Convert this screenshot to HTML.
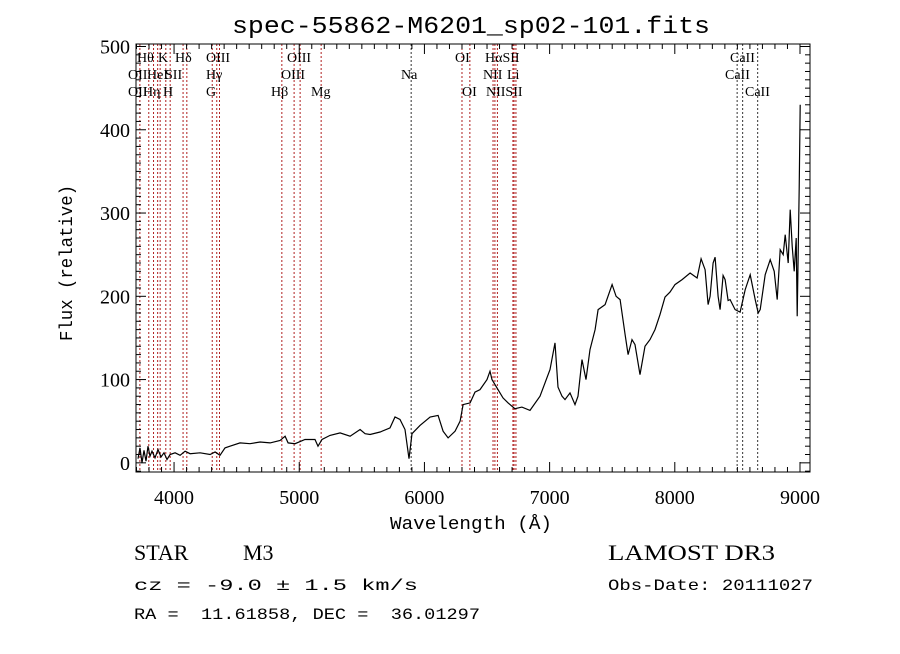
<!DOCTYPE html>
<html><head><meta charset="utf-8"><style>
body{margin:0;background:#fff;}
svg text{font-family:"Liberation Serif",serif;white-space:pre;}
</style></head><body>
<svg id="chart" width="900" height="649" xmlns="http://www.w3.org/2000/svg" xml:space="preserve">
<rect width="900" height="649" fill="#fff"/>
<text x="232" y="33" font-size="24" textLength="478" lengthAdjust="spacingAndGlyphs" style="font-family:'Liberation Mono',monospace">spec-55862-M6201_sp02-101.fits</text>
<g id="lines"></g>
<g id="ticks"></g>
<polyline id="spec" fill="none" stroke="#000" stroke-width="1.2"/>
<rect x="136" y="44" width="674" height="428" fill="none" stroke="#000" stroke-width="1"/>
<g id="labels" font-size="14"></g>
<g id="ticklabels" font-size="20"></g>
<text x="390" y="529" font-size="18" textLength="162" lengthAdjust="spacingAndGlyphs" style="font-family:'Liberation Mono',monospace">Wavelength (Å)</text>
<text transform="translate(72,341) rotate(-90)" font-size="18" textLength="156" lengthAdjust="spacingAndGlyphs" style="font-family:'Liberation Mono',monospace">Flux (relative)</text>
<text x="134" y="560" font-size="22">STAR</text>
<text x="243" y="560" font-size="22">M3</text>
<text x="608" y="560" font-size="22" textLength="167" lengthAdjust="spacingAndGlyphs">LAMOST DR3</text>
<text x="134" y="590" font-size="16" textLength="284" lengthAdjust="spacingAndGlyphs" style="font-family:'Liberation Mono',monospace">cz = -9.0 ± 1.5 km/s</text>
<text x="608" y="590" font-size="16" textLength="205" lengthAdjust="spacingAndGlyphs" style="font-family:'Liberation Mono',monospace">Obs-Date: 20111027</text>
<text x="134" y="619" font-size="16" textLength="346" lengthAdjust="spacingAndGlyphs" style="font-family:'Liberation Mono',monospace">RA =  11.61858, DEC =  36.01297</text>
</svg>
<script>
const wave=[3712,3728,3744,3760,3776,3792,3808,3824,3848,3872,3896,3920,3944,3968,4008,4048,4088,4128,4208,4288,4328,4367,4407,4447,4527,4607,4687,4767,4847,4887,4911,4966,5046,5126,5150,5182,5246,5326,5406,5486,5526,5566,5646,5725,5765,5805,5845,5877,5901,5965,6045,6109,6149,6189,6245,6285,6309,6365,6404,6444,6500,6524,6540,6580,6628,6668,6723,6779,6843,6923,6963,7003,7043,7067,7099,7123,7163,7203,7227,7259,7291,7323,7363,7387,7443,7499,7531,7563,7603,7627,7658,7682,7722,7762,7802,7842,7882,7922,7962,8002,8058,8122,8178,8210,8242,8266,8282,8306,8322,8346,8362,8386,8402,8426,8442,8482,8522,8562,8602,8642,8666,8682,8722,8762,8794,8818,8842,8866,8882,8906,8922,8938,8954,8970,8978,8994,9002];
const flux=[5,18,0,15,2,20,8,14,6,16,7,12,4,10,12,9,14,11,12,10,13,9,18,20,24,23,25,24,27,32,24,23,28,28,20,28,33,36,32,40,35,34,37,42,55,52,40,5,35,45,55,57,38,30,38,50,70,72,85,88,100,110,100,90,78,72,65,67,63,80,96,112,144,91,80,76,84,70,80,124,100,136,160,184,190,214,200,196,154,130,148,142,106,140,148,160,178,199,205,214,220,228,222,245,232,190,200,240,247,200,184,225,220,195,196,184,181,208,226,196,180,184,226,244,230,196,256,250,274,240,304,260,230,270,176,330,430];
const lineWaves=[3727,3798,3836,3869,3889,3934,3969,4072,4102,4305,4341,4363,4861,4959,5007,5175,5894,6300,6363,6548,6563,6583,6707,6716,6731,8498,8542,8662];
const xTicks=[4000,5000,6000,7000,8000,9000];
const yTicks=[0,100,200,300,400,500];
const NS='http://www.w3.org/2000/svg';
const X0=136,X1=810,Y0=472,Y1=44,WMIN=3696,WMAX=9080,FMIN=-11,FMAX=503;
const sx=w=>X0+(w-WMIN)/(WMAX-WMIN)*(X1-X0);
const sy=f=>Y0-(f-FMIN)/(FMAX-FMIN)*(Y0-Y1);
function mk(t,a,p){const e=document.createElementNS(NS,t);for(const k in a)e.setAttribute(k,a[k]);p.appendChild(e);return e;}
document.getElementById('spec').setAttribute('points',wave.map((w,i)=>sx(w).toFixed(1)+','+sy(flux[i]).toFixed(1)).join(' '));
const lg=document.getElementById('lines');
lineWaves.forEach(w=>{const dark=(w>8400||w==5894);
const l=mk('line',{x1:sx(w),x2:sx(w),y1:Y1,y2:Y0,stroke:dark?'#333':'#b02020','stroke-width':1,'stroke-dasharray':'2,2'},lg);

});
const tg=document.getElementById('ticks');
for(let w=3700;w<=9000;w+=100){const maj=w%1000==0;const L=maj?10:5;
mk('line',{x1:sx(w),x2:sx(w),y1:Y0,y2:Y0-L,stroke:'#000'},tg);mk('line',{x1:sx(w),x2:sx(w),y1:Y1,y2:Y1+L,stroke:'#000'},tg);}
for(let f=-10;f<=500;f+=10){const maj=f%100==0;const L=maj?10:5;
mk('line',{x1:X0,x2:X0+L,y1:sy(f),y2:sy(f),stroke:'#000'},tg);mk('line',{x1:X1,x2:X1-L,y1:sy(f),y2:sy(f),stroke:'#000'},tg);}
const tl=document.getElementById('ticklabels');
xTicks.forEach(v=>{const t=mk('text',{x:sx(v),y:504,'text-anchor':'middle'},tl);t.textContent=v;

});
yTicks.forEach(v=>{const t=mk('text',{x:130,y:sy(v)+7,'text-anchor':'end'},tl);t.textContent=v;

});
const labs=[['Hθ',137,62],['K',158,62],['Hδ',175,62],['OIII',206,62],['OIII',287,62],['OI',455,62],['HαSII',485,62],['CaII',730,62],
['OII',128,79],['HeI',147,79],['SII',165,79],['Hγ',206,79],['OIII',281,79],['Na',401,79],['NII',483,79],['Li',507,79],['CaII',725,79],
['OII',128,96],['Hη',143,96],['H',163,96],['G',206,96],['Hβ',271,96],['Mg',311,96],['OI',462,96],['NIISII',486,96],['CaII',745,96]];
const lb=document.getElementById('labels');
labs.forEach(a=>{const t=mk('text',{x:a[1],y:a[2]},lb);t.textContent=a[0];

});
</script>
</body></html>
